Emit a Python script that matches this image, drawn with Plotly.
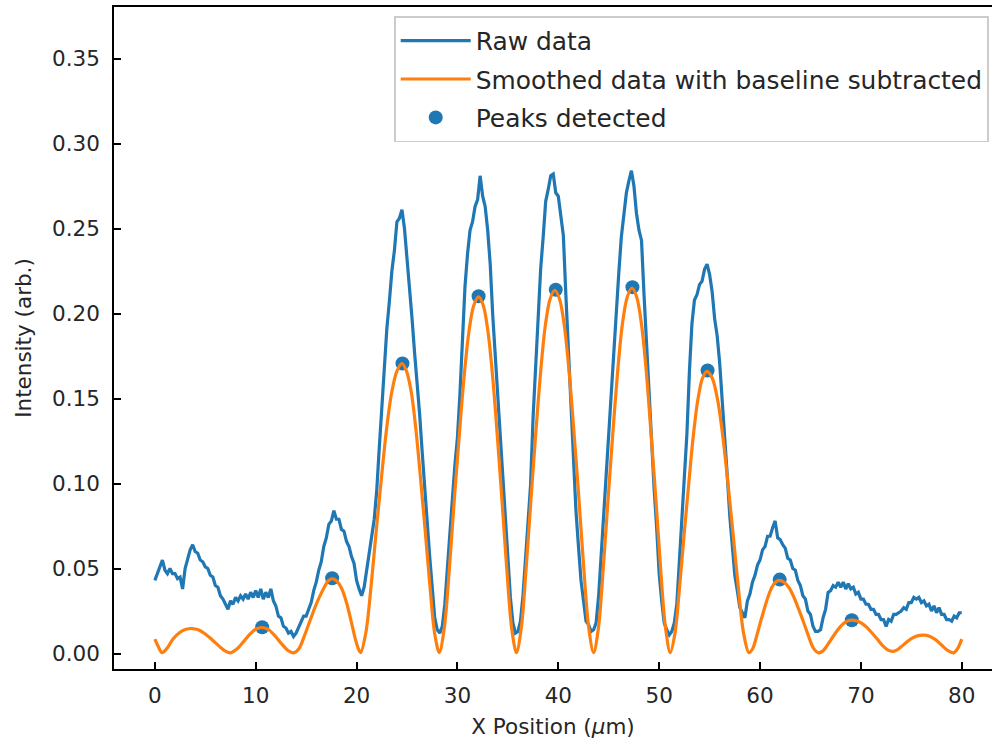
import numpy as np
import plotly.graph_objects as go

# ---------------- data ----------------
raw_y = [
    0.043, 0.047, 0.051, 0.055, 0.049, 0.047, 0.050, 0.047,
    0.047, 0.044, 0.045, 0.038, 0.050, 0.055, 0.061, 0.064,
    0.060, 0.059, 0.055, 0.054, 0.051, 0.050, 0.046, 0.045,
    0.040, 0.039, 0.034, 0.032, 0.029, 0.026, 0.031, 0.029,
    0.033, 0.031, 0.034, 0.032, 0.035, 0.032, 0.036, 0.033,
    0.037, 0.033, 0.038, 0.032, 0.036, 0.033, 0.038, 0.031,
    0.028, 0.022, 0.021, 0.016, 0.015, 0.012, 0.013, 0.010,
    0.012, 0.015, 0.018, 0.022, 0.022, 0.026, 0.030, 0.037,
    0.042, 0.049, 0.054, 0.063, 0.068, 0.076, 0.078, 0.084,
    0.079, 0.079, 0.073, 0.072, 0.066, 0.063, 0.057, 0.053,
    0.043, 0.038, 0.034, 0.039, 0.050, 0.061, 0.069, 0.079,
    0.096, 0.121, 0.146, 0.164, 0.191, 0.207, 0.225, 0.237,
    0.254, 0.256, 0.261, 0.250, 0.234, 0.213, 0.197, 0.177,
    0.161, 0.141, 0.119, 0.097, 0.079, 0.057, 0.039, 0.021,
    0.014, 0.012, 0.016, 0.029, 0.050, 0.073, 0.091, 0.111,
    0.127, 0.153, 0.185, 0.216, 0.235, 0.249, 0.254, 0.263,
    0.267, 0.281, 0.269, 0.263, 0.249, 0.229, 0.199, 0.175,
    0.149, 0.126, 0.099, 0.076, 0.051, 0.033, 0.018, 0.012,
    0.013, 0.019, 0.034, 0.057, 0.077, 0.099, 0.139, 0.171,
    0.199, 0.226, 0.245, 0.266, 0.273, 0.281, 0.282, 0.271,
    0.269, 0.257, 0.246, 0.211, 0.181, 0.145, 0.113, 0.084,
    0.063, 0.043, 0.031, 0.019, 0.017, 0.013, 0.014, 0.018,
    0.034, 0.058, 0.079, 0.106, 0.129, 0.156, 0.179, 0.206,
    0.224, 0.245, 0.257, 0.271, 0.278, 0.284, 0.275, 0.259,
    0.249, 0.243, 0.211, 0.183, 0.149, 0.124, 0.097, 0.074,
    0.047, 0.031, 0.018, 0.014, 0.011, 0.013, 0.018, 0.029,
    0.053, 0.074, 0.101, 0.129, 0.166, 0.194, 0.208, 0.211,
    0.217, 0.219, 0.226, 0.229, 0.223, 0.213, 0.197, 0.187,
    0.171, 0.151, 0.129, 0.105, 0.081, 0.061, 0.046, 0.037,
    0.027, 0.024, 0.021, 0.031, 0.035, 0.042, 0.046, 0.052,
    0.055, 0.061, 0.063, 0.069, 0.069, 0.074, 0.078, 0.068,
    0.067, 0.064, 0.062, 0.056, 0.055, 0.050, 0.049, 0.043,
    0.040, 0.034, 0.032, 0.025, 0.023, 0.016, 0.013, 0.013,
    0.014, 0.021, 0.026, 0.036, 0.037, 0.040, 0.039, 0.042,
    0.039, 0.042, 0.038, 0.041, 0.038, 0.039, 0.035, 0.036,
    0.032, 0.032, 0.029, 0.029, 0.026, 0.026, 0.023, 0.023,
    0.020, 0.020, 0.016, 0.020, 0.019, 0.023, 0.023, 0.024,
    0.025, 0.027, 0.026, 0.030, 0.030, 0.033, 0.032, 0.033,
    0.030, 0.031, 0.028, 0.029, 0.025, 0.028, 0.024, 0.027,
    0.023, 0.023, 0.020, 0.020, 0.019, 0.022, 0.021, 0.024,
    0.024,
]
raw_x = np.linspace(0, 80, len(raw_y))

smooth_x = [
    0, 0.35, 0.7, 1.2, 1.8, 2.5, 3.1, 3.7, 4.3, 5.0, 5.7, 6.4, 7.0, 7.5,
    8.1, 8.8, 9.5, 10.0, 10.6, 11.2, 11.9, 12.6, 13.2, 13.75,
    14.3, 14.8, 15.3, 15.8, 16.3, 16.8, 17.2, 17.6, 18.0, 18.5, 19.0, 19.5, 19.9, 20.2, 20.4,
    20.91, 21.43, 21.94, 22.45, 22.96, 23.48, 23.99, 24.5,
    24.96, 25.43, 25.89, 26.35, 26.81, 27.28, 27.74, 28.2,
    28.69, 29.18, 29.66, 30.15, 30.64, 31.13, 31.61, 32.1,
    32.57, 33.04, 33.51, 33.98, 34.44, 34.91, 35.38, 35.85,
    36.33, 36.8, 37.28, 37.75, 38.23, 38.7, 39.18, 39.65,
    40.13, 40.61, 41.09, 41.58, 42.06, 42.54, 43.02, 43.5,
    43.98, 44.45, 44.93, 45.4, 45.88, 46.35, 46.83, 47.3,
    47.78, 48.25, 48.73, 49.2, 49.68, 50.15, 50.63, 51.1,
    51.56, 52.01, 52.47, 52.93, 53.38, 53.84, 54.29, 54.75,
    55.27, 55.79, 56.31, 56.83, 57.34, 57.86, 58.38, 58.9,
    59.28, 59.65, 60.03, 60.4, 60.78, 61.15, 61.53, 61.9,
    62.39, 62.88, 63.36, 63.85, 64.34, 64.83, 65.31, 65.8,
    66.21, 66.63, 67.04, 67.45, 67.86, 68.28, 68.69, 69.1,
    69.61, 70.13, 70.64, 71.15, 71.66, 72.18, 72.69, 73.2,
    73.6, 74.0, 74.5, 75.0, 75.6, 76.2, 76.8, 77.4, 78.0, 78.6, 79.2, 79.6, 80.0,
]
smooth_y = [
    0.0085, 0.0040, 0.0005, 0.0030, 0.0085, 0.0125, 0.0143, 0.0147, 0.0140, 0.0115, 0.0080, 0.0042, 0.0014, 0.0004,
    0.0025, 0.0070, 0.0118, 0.0143, 0.0153, 0.0143, 0.0105, 0.0055, 0.0018, 0.0004,
    0.0030, 0.0100, 0.0180, 0.0260, 0.0330, 0.0390, 0.0428, 0.0440, 0.0428, 0.0385, 0.0300, 0.0180, 0.0080, 0.0025, 0.0005,
    0.0119, 0.0392, 0.0717, 0.1024, 0.1314, 0.1535, 0.1660, 0.1706,
    0.1660, 0.1535, 0.1314, 0.1024, 0.0717, 0.0392, 0.0119, 0.0005,
    0.0147, 0.0483, 0.0881, 0.1259, 0.1615, 0.1888, 0.2046, 0.2098,
    0.2046, 0.1888, 0.1615, 0.1259, 0.0881, 0.0483, 0.0147, 0.0005,
    0.0150, 0.0492, 0.0898, 0.1282, 0.1645, 0.1923, 0.2084, 0.2137,
    0.2084, 0.1923, 0.1645, 0.1282, 0.0898, 0.0492, 0.0150, 0.0005,
    0.0151, 0.0495, 0.0903, 0.1290, 0.1656, 0.1935, 0.2096, 0.2150,
    0.2096, 0.1935, 0.1656, 0.1290, 0.0903, 0.0495, 0.0151, 0.0005,
    0.0116, 0.0382, 0.0697, 0.0996, 0.1278, 0.1494, 0.1619, 0.1660,
    0.1619, 0.1494, 0.1278, 0.0996, 0.0697, 0.0382, 0.0116, 0.0005,
    0.0030, 0.0099, 0.0181, 0.0258, 0.0331, 0.0387, 0.0419, 0.0430,
    0.0419, 0.0387, 0.0331, 0.0258, 0.0181, 0.0099, 0.0030, 0.0004,
    0.0014, 0.0045, 0.0082, 0.0118, 0.0151, 0.0176, 0.0191, 0.0196,
    0.0191, 0.0176, 0.0151, 0.0118, 0.0082, 0.0045, 0.0020, 0.0013,
    0.0022, 0.0040, 0.0065, 0.0088, 0.0104, 0.0108, 0.0102, 0.0082, 0.0050, 0.0018, 0.0004, 0.0030, 0.0085,
]

peak_x = [10.64, 17.58, 24.55, 32.1, 39.75, 47.35, 54.8, 61.95, 69.1]
peak_y = [0.0155, 0.0443, 0.1706, 0.2102, 0.2140, 0.2155, 0.1665, 0.0435, 0.0196]

x_ticks = [0, 10, 20, 30, 40, 50, 60, 70, 80]
y_ticks = [0.00, 0.05, 0.10, 0.15, 0.20, 0.25, 0.30, 0.35]

BLUE = "#1f77b4"
ORANGE = "#ff7f0e"
FONT = "DejaVu Sans"
FS = 21.5
LFS = 24.9
TXT = "#262626"

fig = go.Figure()
fig.add_trace(go.Scatter(
    x=peak_x, y=peak_y, mode="markers", name="Peaks detected",
    marker=dict(color=BLUE, size=14, line=dict(width=0)),
    legendrank=3, legendgroup="c",
))
fig.add_trace(go.Scatter(
    x=raw_x, y=raw_y, mode="lines", name="Raw data",
    line=dict(color=BLUE, width=3.2), legendrank=1, legendgroup="a",
))
fig.add_trace(go.Scatter(
    x=smooth_x, y=smooth_y, mode="lines", name="Smoothed data with baseline subtracted",
    line=dict(color=ORANGE, width=3.2, shape="spline", smoothing=0.9),
    legendrank=2, legendgroup="b",
))

axis_common = dict(
    showgrid=False, zeroline=False, showline=True, linecolor="black", linewidth=1.7,
    ticks="inside", ticklen=7.5, tickwidth=1.7, tickcolor="black",
    tickfont=dict(family=FONT, size=FS, color=TXT),
)

fig.update_layout(
    width=992, height=742,
    margin=dict(l=114, r=0, t=7, b=73),
    paper_bgcolor="white", plot_bgcolor="white",
    font=dict(family=FONT, size=FS, color=TXT),
    xaxis=dict(
        range=[-4.05, 83.0], tickvals=x_ticks, ticktext=[str(v) for v in x_ticks],
        mirror=True, ticklabelstandoff=6,
        title=dict(text="X Position (<i>μ</i>m)", font=dict(family=FONT, size=FS, color=TXT), standoff=12),
        **axis_common,
    ),
    yaxis=dict(
        range=[-0.0091, 0.3803], tickvals=y_ticks, ticktext=[f"{v:.2f}" for v in y_ticks],
        mirror=False, ticklabelstandoff=8,
        title=dict(text="Intensity (arb.)", font=dict(family=FONT, size=FS, color=TXT), standoff=14),
        **axis_common,
    ),
    legend=dict(
        x=0.9966, xanchor="right", y=0.986, yanchor="top",
        bgcolor="rgba(255,255,255,0.8)", bordercolor="#cccccc", borderwidth=1.7,
        font=dict(family=FONT, size=LFS, color=TXT),
        traceorder="grouped", tracegroupgap=3, itemwidth=70,
    ),
    showlegend=True,
)

fig.write_html("out.html")
